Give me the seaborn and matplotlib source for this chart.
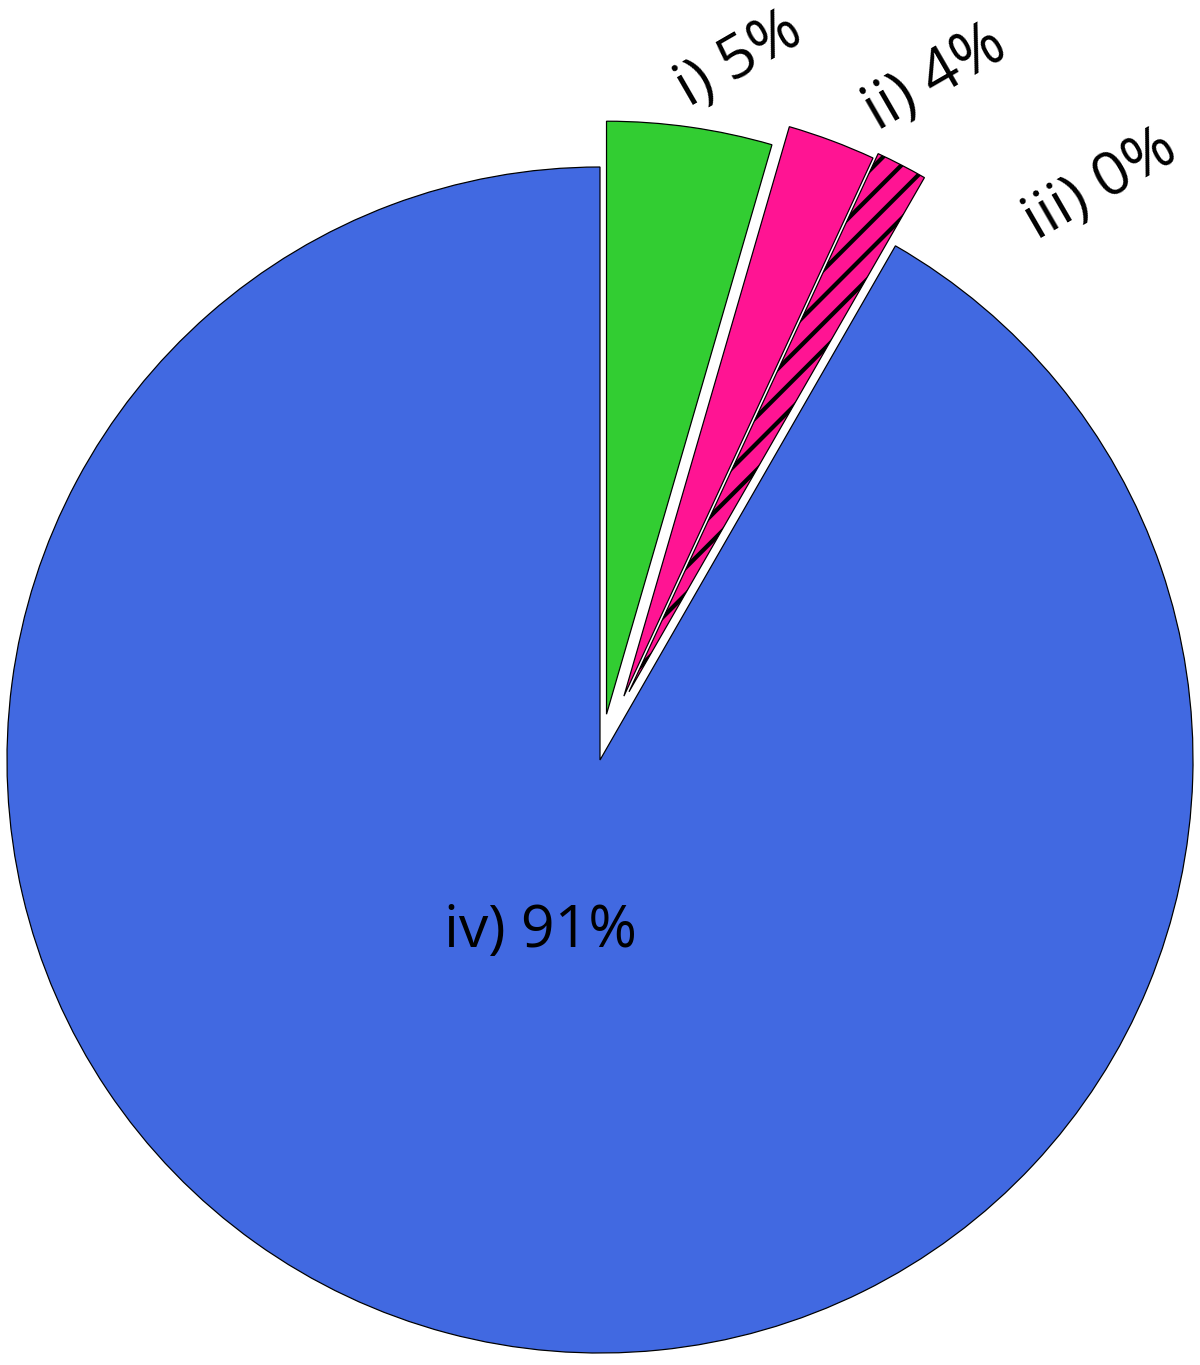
import numpy as np
import seaborn as sns
import matplotlib.pyplot as plt

# wedge shares (clockwise from 12 o'clock); the hatched sliver belongs to group ii
categories = ["i", "ii", "ii hatched", "iv"]
shares = [4.5, 2.4, 1.4, 91.7]
colors = ["#32CD32", "#FF1493", "#FF1493", "#4169E1"]
hatches = [None, None, "/", None]
explode = [0.078, 0.115, 0.125, 0.0]

label_texts = ["i) 5%", "ii) 4%", "iii) 0%", "iv) 91%"]
label_x = [0.235, 0.565, 0.845, -0.10]
label_y = [1.18, 1.15, 0.97, -0.29]
label_rot = [30, 30, 30, 0]
label_size = [55, 56, 55, 53]

sns.set_theme(style="white")
plt.rcParams["font.family"] = ["Open Sans", "DejaVu Sans"]
plt.rcParams["hatch.linewidth"] = 3.8

DPI = 80
fig = plt.figure(figsize=(15, 17.0625), dpi=DPI)
ax = fig.add_axes([0, 0, 1, 1])

wedges, _ = ax.pie(
    shares,
    colors=colors,
    explode=explode,
    startangle=90,
    counterclock=False,
    radius=1,
    wedgeprops=dict(edgecolor="black", linewidth=1.1),
)
for w, h in zip(wedges, hatches):
    if h:
        w.set_hatch(h)

# move the hatched sliver along the bisector of the whole ii group
edges = 90 - 360 * np.cumsum([0] + shares) / sum(shares)
ii_mid = np.deg2rad((edges[1] + edges[3]) / 2)
wedges[2].set_center((explode[2] * np.cos(ii_mid), explode[2] * np.sin(ii_mid)))

for txt, x, y, rot, fs in zip(label_texts, label_x, label_y, label_rot, label_size):
    ax.text(x, y, txt, fontsize=fs, rotation=rot, ha="center", va="center",
            color="black")

ax.set_xlim(-1.0118, 1.0118)
ax.set_ylim(-1.0202, 1.2816)
ax.set_aspect("equal")
ax.axis("off")

fig.savefig("out.png", dpi=DPI)
